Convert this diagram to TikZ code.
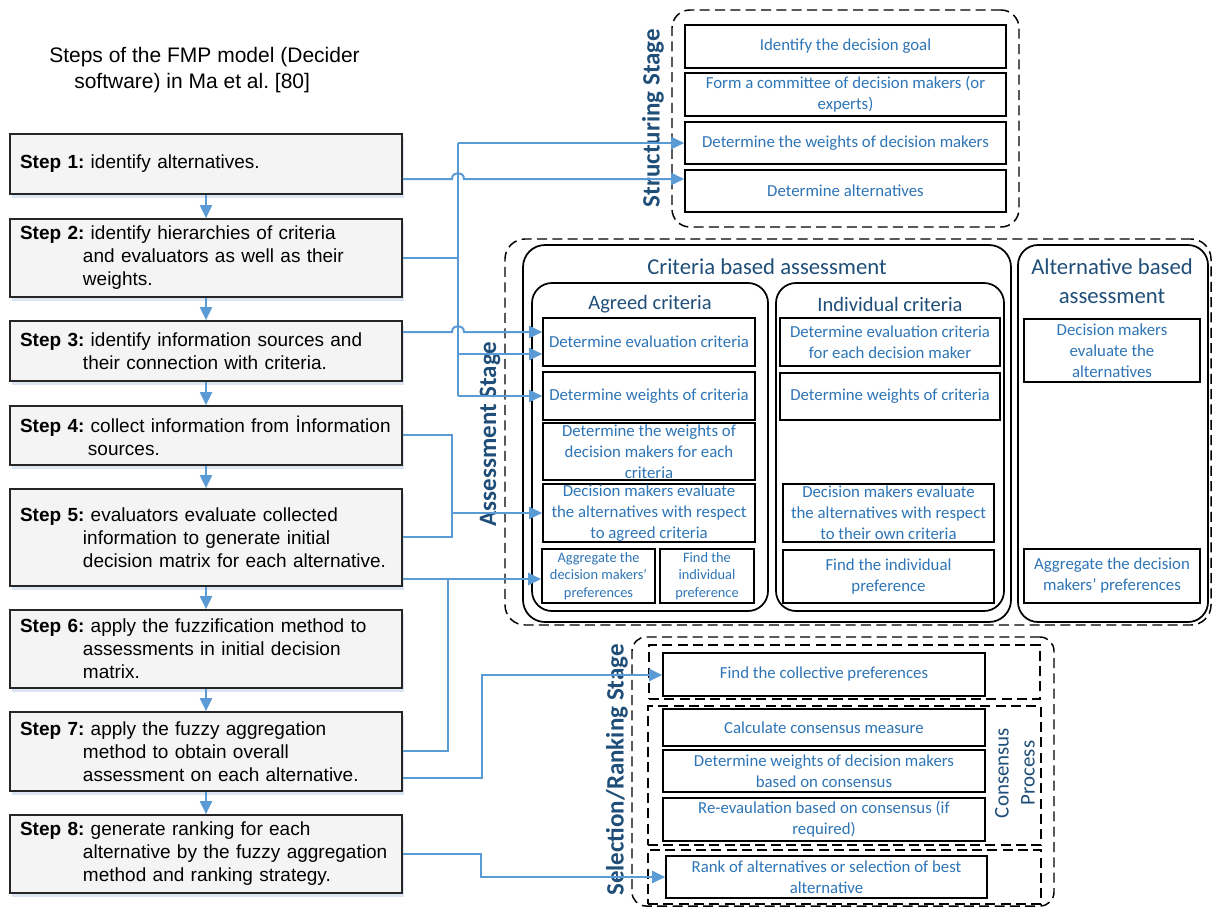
\documentclass[tikz,border=0pt]{standalone}
\usepackage{fontspec}
\setmainfont{Liberation Sans}
\newfontfamily\calfont{Carlito}
\usetikzlibrary{arrows.meta,fit,shadows}
\newdimen\U \U=0.75pt
\definecolor{cblue}{HTML}{5B9BD5}
\definecolor{tblue}{HTML}{2E75B6}
\definecolor{hblue}{HTML}{1F4E79}
\definecolor{stepfill}{HTML}{F4F4F4}
\definecolor{shad}{HTML}{DCE6F2}
% box from corner (x1,y1) to (x2,y2), pixel units
\newcommand\rbox[7][rb]{%
  \pgfmathsetmacro\rbcx{(#3+#5)/2}%
  \pgfmathsetmacro\rbcy{(#4+#6)/2}%
  \pgfmathsetmacro\rbw{(#5-#3)*0.75}%
  \pgfmathsetmacro\rbh{(#6-#4)*0.75}%
  \node[#1, minimum width=\rbw pt, minimum height=\rbh pt] (#2) at (\rbcx,\rbcy) {#7};}
\begin{document}
\frenchspacing
\begin{tikzpicture}[x=0.75pt,y=-0.75pt,
  stepbox/.style={draw=black!85, line width=1.3pt, fill=stepfill, minimum width=294pt,
    text width=279pt, inner xsep=7.5pt, inner ysep=0pt, align=left,
    font=\fontsize{19\U}{23\U}\selectfont,
    drop shadow={shadow xshift=1.5pt, shadow yshift=-3pt, fill=shad, opacity=1}},
  rb/.style={draw=black, line width=1.2pt, fill=white, inner sep=0pt, align=center,
    text=tblue, font=\calfont\fontsize{16.8\U}{21\U}\selectfont},
  rbs/.style={rb, font=\calfont\fontsize{14.4\U}{17.5\U}\selectfont},
  dashbox/.style={draw=black, line width=1.1pt, dash pattern=on 7.5pt off 4pt, inner sep=0pt},
  roundbox/.style={draw=black, line width=1.3pt, inner sep=0pt},
  stagelabel/.style={font=\calfont\bfseries\fontsize{25\U}{30\U}\selectfont, text=hblue, inner sep=0pt, rotate=90},
  hone/.style={font=\calfont\fontsize{22.7\U}{29\U}\selectfont, text=hblue, inner sep=0pt, align=center},
  htwo/.style={font=\calfont\fontsize{20.5\U}{25\U}\selectfont, text=hblue, inner sep=0pt, align=center},
  conn/.style={draw=cblue, line width=1.5pt},
  arr/.style={conn, -{Triangle[length=9.75pt,width=9pt]}}
]
\useasboundingbox[fill=white] (0,0) rectangle (1213,908);

% ---------- title ----------
\node[anchor=west, align=left, inner sep=0pt, font=\fontsize{21\U}{26\U}\selectfont] (title) at (49,70)
  {Steps of the FMP model (Decider\\\hspace*{25\U}software) in Ma et al. [80]};

% ---------- steps ----------
\node[stepbox, minimum height=45pt] (s1) at (206,164) {\textbf{Step 1:} identify alternatives.};
\node[stepbox, minimum height=58.5pt] (s2) at (206,258) {\textbf{Step 2:} identify hierarchies of criteria\\\hspace*{63\U}and evaluators as well as their\\\hspace*{63\U}weights.};
\node[stepbox, minimum height=45pt] (s3) at (206,351) {\textbf{Step 3:} identify information sources and\\\hspace*{63\U}their connection with criteria.};
\node[stepbox, minimum height=44.25pt] (s4) at (206,435.5) {\mbox{\textbf{Step 4:} collect information from İnformation}\\\hspace*{68\U}sources.};
\node[stepbox, minimum height=72.75pt] (s5) at (206,537.5) {\textbf{Step 5:} evaluators evaluate collected\\\hspace*{63\U}information to generate initial\\\hspace*{63\U}\mbox{decision matrix for each alternative.}};
\node[stepbox, minimum height=58.5pt] (s6) at (206,649) {\textbf{Step 6:} apply the fuzzification method to\\\hspace*{63\U}assessments in initial decision\\\hspace*{63\U}matrix.};
\node[stepbox, minimum height=59.25pt] (s7) at (206,751.5) {\textbf{Step 7:} apply the fuzzy aggregation\\\hspace*{63\U}method to obtain overall\\\hspace*{63\U}\mbox{assessment on each alternative.}};
\node[stepbox, minimum height=58.5pt] (s8) at (206,854) {\textbf{Step 8:} generate ranking for each\\\hspace*{63\U}\mbox{alternative by the fuzzy aggregation}\\\hspace*{63\U}method and ranking strategy.};
\foreach \a/\b in {s1/s2,s2/s3,s3/s4,s4/s5,s5/s6,s6/s7,s7/s8}
  \draw[arr] (\a) -- (\b);

% ---------- structuring stage ----------
\node[dashbox, rounded corners=13.5pt, fit={(672,10) (1019,227)}] (struct) {};
\rbox{St1}{685}{25}{1006}{68}{Identify the decision goal}
\rbox{St2}{685}{73}{1006}{116}{Form a committee of decision makers (or\\experts)}
\rbox{St3}{685}{122}{1006}{164}{Determine the weights of decision makers}
\rbox{St4}{685}{170}{1006}{212}{Determine alternatives}
\node[stagelabel] (lstruct) at (653,118) {Structuring Stage};

% ---------- assessment stage ----------
\node[dashbox, rounded corners=15pt, fit={(505,239) (1211,625)}] (assess) {};
\node[roundbox, rounded corners=16.5pt, fit={(523,245) (1011,622)}] (crit) {};
\node[roundbox, rounded corners=15pt, fit={(1018,245) (1208,622)}] (alt) {};
\node[roundbox, rounded corners=15pt, fit={(532,283) (768,611)}] (agreed) {};
\node[roundbox, rounded corners=15pt, fit={(776,283) (1004,611)}] (indiv) {};
\node[hone] (tcrit) at (767,267) {Criteria based assessment};
\node[hone] (talt) at (1112,281.5) {Alternative based\\assessment};
\node[htwo] (tagr) at (650,304) {Agreed criteria};
\node[htwo] (tind) at (890,304) {Individual criteria};

\rbox{A1}{543}{318}{755}{366}{Determine evaluation criteria}
\rbox{A2}{543}{372}{755}{420}{Determine weights of criteria}
\rbox{A3}{543}{423}{755}{480}{Determine the weights of\\decision makers for each\\criteria}
\rbox{A4}{543}{484}{755}{542}{Decision makers evaluate\\the alternatives with respect\\to agreed criteria}
\rbox[rbs]{A5}{542}{549}{655}{603}{Aggregate the\\decision makers’\\preferences}
\rbox[rbs]{A6}{660}{549}{754}{603}{Find the\\individual\\preference}

\rbox{I1}{780}{318}{1000}{366}{Determine evaluation criteria\\for each decision maker}
\rbox{I2}{780}{373}{1000}{420}{Determine weights of criteria}
\rbox{I3}{783}{484}{994}{542}{Decision makers evaluate\\the alternatives with respect\\to their own criteria}
\rbox{I4}{783}{550}{994}{603}{Find the individual\\preference}

\rbox{B1}{1024}{319}{1200}{382}{Decision makers\\evaluate the\\alternatives}
\rbox{B2}{1024}{549}{1200}{603}{Aggregate the decision\\makers’ preferences}
\node[stagelabel] (lassess) at (490,434) {Assessment Stage};

% ---------- selection / ranking stage ----------
\node[dashbox, rounded corners=10.5pt, fit={(632,637) (1054,906)}] (select) {};
\node[dashbox, fit={(649,645) (1040,699)}] (sel1) {};
\node[dashbox, fit={(648,706) (1041,845)}] (sel2) {};
\node[dashbox, fit={(648,850) (1041,904)}] (sel3) {};
\rbox{S1}{663}{653}{985}{696}{Find the collective preferences}
\rbox{S2}{663}{709}{985}{746}{Calculate consensus measure}
\rbox{S3}{663}{750}{985}{792}{Determine weights of decision makers\\based on consensus}
\rbox{S4}{663}{798}{985}{841}{Re-evaulation based on consensus (if\\required)}
\rbox{S5}{666}{856}{987}{898}{Rank of alternatives or selection of best\\alternative}
\node[rotate=90, align=center, inner sep=0pt, text=hblue, font=\calfont\fontsize{20.9\U}{26\U}\selectfont] (lcons) at (1015,773) {Consensus\\Process};
\node[stagelabel] (lselect) at (617,770) {Selection/Ranking Stage};

% ---------- connectors ----------
\coordinate (b1) at (458,143);
\coordinate (b2) at (458,258);
\coordinate (b3) at (458,354);
\coordinate (b4) at (458,396);
\draw[conn] (s2.east |- b2) -- (b2);
\draw[conn] (b1) -- (b4);
\draw[arr] (b1) -- (St3.west |- b1);
\draw[arr] (b3) -- (A1.west |- b3);
\draw[arr] (b4) -- (A2.west |- b4);

\coordinate (j1) at (458,179);
\draw[arr] (s1.east |- j1) -- ([xshift=-4.5pt]j1) .. controls +(0,-8) and +(0,-8) .. ([xshift=4.5pt]j1) -- (St4.west |- j1);
\coordinate (j3) at (458,332);
\draw[arr] (s3.east |- j3) -- ([xshift=-4.5pt]j3) .. controls +(0,-8) and +(0,-8) .. ([xshift=4.5pt]j3) -- (A1.west |- j3);

\coordinate (c1) at (452,435);
\coordinate (c2) at (452,513);
\coordinate (c3) at (452,537);
\draw[conn] (s4.east |- c1) -- (c1) -- (c3) -- (s5.east |- c3);
\draw[arr] (c2) -- (A4.west |- c2);

\coordinate (d1) at (448,579);
\coordinate (d2) at (448,751);
\draw[arr] (s5.east |- d1) -- (A5.west |- d1);
\draw[conn] (s7.east |- d2) -- (d2) -- (d1);

\coordinate (e1) at (482,778);
\coordinate (e2) at (482,675);
\draw[arr] (s7.east |- e1) -- (e1) -- (e2) -- (S1.west |- e2);
\coordinate (f1) at (481,854);
\coordinate (f2) at (481,877);
\draw[arr] (s8.east |- f1) -- (f1) -- (f2) -- (S5.west |- f2);
\end{tikzpicture}
\end{document}
